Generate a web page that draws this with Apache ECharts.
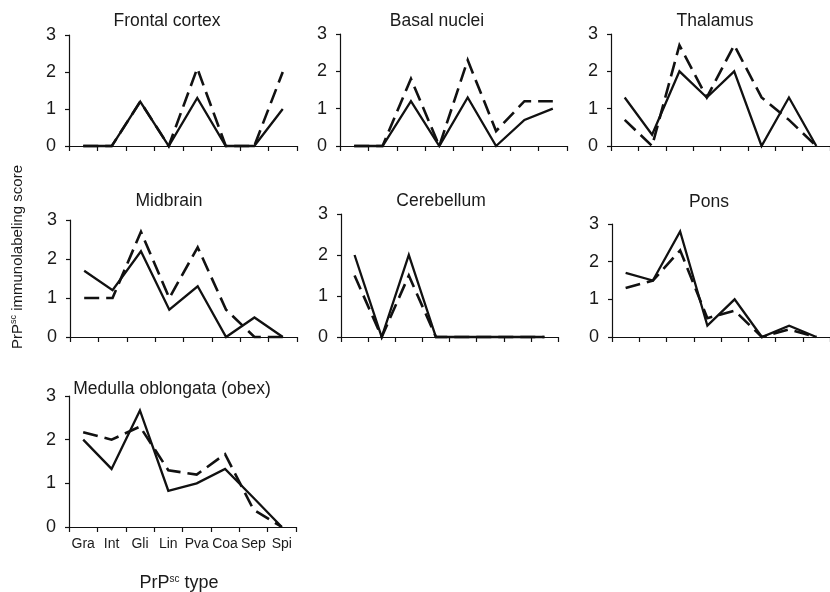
<!DOCTYPE html>
<html>
<head>
<meta charset="utf-8">
<script src="https://cdn.jsdelivr.net/npm/echarts@6/dist/echarts.min.js"></script>
<style>html,body{margin:0;padding:0;background:#fff}#c{width:830px;height:592px}</style>
</head>
<body>
<div id="c"></div>
<script>
const categories = ['Gra','Int','Gli','Lin','Pva','Coa','Sep','Spi'];
const yTicks = [0, 1, 2, 3];
const titles = ['Frontal cortex','Basal nuclei','Thalamus','Midbrain','Cerebellum','Pons','Medulla oblongata (obex)'];

const frontalSolid    = [0, 0, 1.2, 0, 1.3, 0, 0, 1.0];
const frontalDashed   = [0, 0, 1.2, 0, 2.1, 0, 0, 2.0];
const basalSolid      = [0, 0, 1.2, 0, 1.3, 0, 0.7, 1.0];
const basalDashed     = [0, 0, 1.8, 0, 2.3, 0.4, 1.2, 1.2];
const thalamusSolid   = [1.3, 0.3, 2.0, 1.3, 2.0, 0, 1.3, 0];
const thalamusDashed  = [0.7, 0, 2.7, 1.3, 2.7, 1.3, 0.7, 0];
const midbrainSolid   = [1.7, 1.2, 2.2, 0.7, 1.3, 0, 0.5, 0];
const midbrainDashed  = [1.0, 1.0, 2.7, 1.0, 2.3, 0.7, 0, 0];
const cerebellumSolid = [2.0, 0, 2.0, 0, 0, 0, 0, 0];
const cerebellumDashed= [1.5, 0, 1.5, 0, 0, 0, 0, 0];
const ponsSolid       = [1.7, 1.5, 2.8, 0.3, 1.0, 0, 0.3, 0];
const ponsDashed      = [1.3, 1.5, 2.3, 0.5, 0.7, 0, 0.2, 0];
const medullaSolid    = [2.0, 1.33, 2.67, 0.83, 1.0, 1.33, 0.67, 0];
const medullaDashed   = [2.17, 2.0, 2.3, 1.3, 1.2, 1.67, 0.4, 0];

const solidSets  = [frontalSolid, basalSolid, thalamusSolid, midbrainSolid, cerebellumSolid, ponsSolid, medullaSolid];
const dashedSets = [frontalDashed, basalDashed, thalamusDashed, midbrainDashed, cerebellumDashed, ponsDashed, medullaDashed];

// layout (pixels)
const grids = [
  {left: 69,  top: 35,  width: 228, height: 111},
  {left: 340, top: 34,  width: 227, height: 112},
  {left: 611, top: 34,  width: 227, height: 112},
  {left: 70,  top: 220, width: 227, height: 117},
  {left: 341, top: 214, width: 217, height: 123},
  {left: 612, top: 224, width: 226, height: 113},
  {left: 69,  top: 396, width: 227, height: 131}
];
const titlePos = [[167,21],[437,21],[715,21],[169,201],[441,201],[709,202],[172,389]];

const FONT = '"Liberation Sans", Arial, Helvetica, sans-serif';
const INK = '#111';

const option = {
  animation: false,
  backgroundColor: '#fff',
  grid: grids.map(g => Object.assign({containLabel: false}, g)),
  xAxis: grids.map((g, i) => ({
    type: 'category',
    gridIndex: i,
    data: categories,
    boundaryGap: true,
    axisLine: {show: true, onZero: false, lineStyle: {color: INK, width: 1.2}},
    axisTick: {show: true, length: 5, inside: false, alignWithLabel: false, lineStyle: {color: INK, width: 1.2}},
    axisLabel: {show: i === 6, interval: 0, margin: 10, color: '#1a1a1a', fontSize: 14, fontFamily: FONT},
    splitLine: {show: false}
  })),
  yAxis: grids.map((g, i) => ({
    type: 'value',
    gridIndex: i,
    min: yTicks[0],
    max: yTicks[yTicks.length - 1],
    interval: 1,
    axisLine: {show: true, lineStyle: {color: INK, width: 1.2}},
    axisTick: {show: true, length: 4, lineStyle: {color: INK, width: 1.2}},
    axisLabel: {show: true, margin: 13, color: '#1a1a1a', fontSize: 18, fontFamily: FONT},
    splitLine: {show: false}
  })),
  series: [],
  graphic: []
};

for (let i = 0; i < 7; i++) {
  option.series.push({
    type: 'line', name: 'solid', xAxisIndex: i, yAxisIndex: i,
    data: solidSets[i], symbol: 'none', showSymbol: false,
    lineStyle: {color: INK, width: 2.3, type: 'solid', cap: 'butt', join: 'miter'},
    clip: false, z: 3
  });
  option.series.push({
    type: 'line', name: 'dashed', xAxisIndex: i, yAxisIndex: i,
    data: dashedSets[i], symbol: 'none', showSymbol: false,
    lineStyle: {color: INK, width: 2.6, type: [15, 7], cap: 'butt', join: 'miter'},
    clip: false, z: 2
  });
  option.graphic.push({
    type: 'text', x: titlePos[i][0], y: titlePos[i][1],
    style: {text: titles[i], fill: '#1a1a1a', font: '17.5px ' + FONT, textAlign: 'center', textVerticalAlign: 'middle'}
  });
}

// axis titles
option.graphic.push({
  type: 'text', x: 179, y: 583,
  style: {
    text: '{n|PrP}{s|sc}{n| type}',
    textAlign: 'center', textVerticalAlign: 'middle',
    rich: {
      n: {fontSize: 18, fontFamily: FONT, fill: '#1a1a1a', color: '#1a1a1a'},
      s: {fontSize: 10, fontFamily: FONT, fill: '#1a1a1a', color: '#1a1a1a', verticalAlign: 'top', padding: [0, 0, 8, 0]}
    }
  }
});
option.graphic.push({
  type: 'text', x: 18, y: 257, rotation: Math.PI / 2,
  style: {
    text: '{n|PrP}{s|sc}{n| immunolabeling score}',
    textAlign: 'center', textVerticalAlign: 'middle',
    rich: {
      n: {fontSize: 15, fontFamily: FONT, fill: '#1a1a1a', color: '#1a1a1a'},
      s: {fontSize: 9, fontFamily: FONT, fill: '#1a1a1a', color: '#1a1a1a', verticalAlign: 'top', padding: [0, 0, 8, 0]}
    }
  }
});

const chart = echarts.init(document.getElementById('c'), null, {renderer: 'canvas', width: 830, height: 592});
chart.setOption(option);
</script>
</body>
</html>
